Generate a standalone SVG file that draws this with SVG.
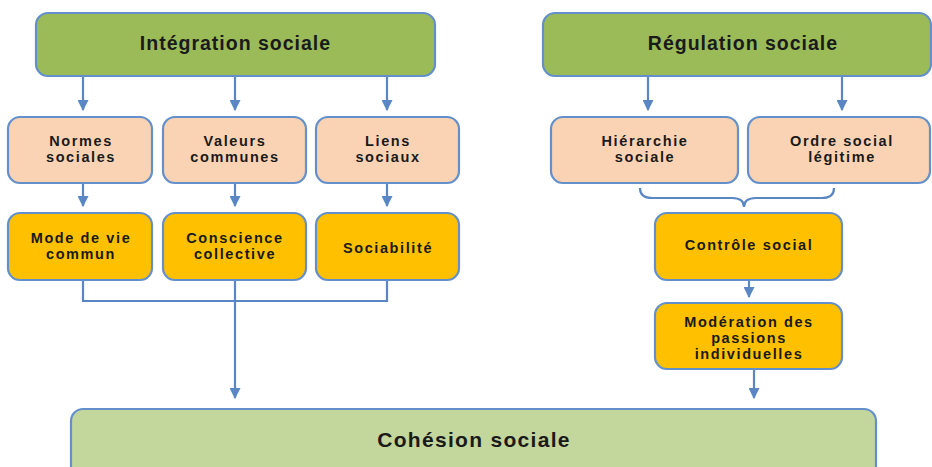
<svg xmlns="http://www.w3.org/2000/svg" width="932" height="467" viewBox="0 0 932 467">
<defs>
<marker id="ah" viewBox="0 0 10 10" refX="9" refY="5" markerWidth="5" markerHeight="5" markerUnits="strokeWidth" orient="auto">
<path d="M0,0 L10,5 L0,10 Z" fill="#5A86C4"/>
</marker>
</defs>
<style>
.box{stroke:#6390CB;stroke-width:2.2}
.g1{fill:#9BBB59}
.pe{fill:#FAD3B4}
.or{fill:#FFC000}
.g2{fill:#C3D69B}
text{font-family:"Liberation Sans",Arial,sans-serif;font-weight:bold;fill:#1A1A1A;text-anchor:middle}
.t1{font-size:19.5px;letter-spacing:1px}
.t2{font-size:14.5px;letter-spacing:1.6px}
.t3{font-size:21px;letter-spacing:1.3px}
.ln{fill:none;stroke:#5A86C4;stroke-width:2.2}
</style>
<g id="integration">
<rect class="box g1" x="36" y="13" width="399" height="63" rx="12"/>
<text class="t1" x="235.5" y="50">Intégration sociale</text>
</g>
<g id="regulation">
<rect class="box g1" x="543" y="13" width="388" height="63" rx="12"/>
<text class="t1" x="743" y="50">Régulation sociale</text>
</g>
<g id="normes">
<rect class="box pe" x="8" y="117" width="144" height="66" rx="12"/>
<text class="t2" x="81" y="146">Normes</text>
<text class="t2" x="81" y="162">sociales</text>
</g>
<g id="valeurs">
<rect class="box pe" x="163" y="117" width="143" height="66" rx="12"/>
<text class="t2" x="235" y="146">Valeurs</text>
<text class="t2" x="235" y="162">communes</text>
</g>
<g id="liens">
<rect class="box pe" x="316" y="117" width="143" height="66" rx="12"/>
<text class="t2" x="388" y="146">Liens</text>
<text class="t2" x="388" y="162">sociaux</text>
</g>
<g id="hierarchie">
<rect class="box pe" x="551" y="117" width="187" height="66" rx="12"/>
<text class="t2" x="645" y="146">Hiérarchie</text>
<text class="t2" x="645" y="162">sociale</text>
</g>
<g id="ordre">
<rect class="box pe" x="748" y="117" width="182" height="66" rx="12"/>
<text class="t2" x="842" y="146">Ordre social</text>
<text class="t2" x="842" y="162">légitime</text>
</g>
<g id="mode">
<rect class="box or" x="8" y="213" width="144" height="67" rx="12"/>
<text class="t2" x="81" y="243">Mode de vie</text>
<text class="t2" x="81" y="259">commun</text>
</g>
<g id="conscience">
<rect class="box or" x="163" y="213" width="143" height="67" rx="12"/>
<text class="t2" x="235" y="243">Conscience</text>
<text class="t2" x="235" y="259">collective</text>
</g>
<g id="sociabilite">
<rect class="box or" x="316" y="213" width="143" height="67" rx="12"/>
<text class="t2" x="388" y="253">Sociabilité</text>
</g>
<g id="controle">
<rect class="box or" x="655" y="213" width="187" height="67" rx="12"/>
<text class="t2" x="749" y="250">Contrôle social</text>
</g>
<g id="moderation">
<rect class="box or" x="655" y="303" width="187" height="66" rx="12"/>
<text class="t2" x="749" y="327">Modération des</text>
<text class="t2" x="749" y="343">passions</text>
<text class="t2" x="749" y="359">individuelles</text>
</g>
<g id="cohesion">
<rect class="box g2" x="71" y="409" width="805" height="80" rx="12"/>
<text class="t3" x="474" y="447">Cohésion sociale</text>
</g>
<g id="connectors">
<line class="ln" x1="83" y1="77" x2="83" y2="110" marker-end="url(#ah)"/>
<line class="ln" x1="235" y1="77" x2="235" y2="110" marker-end="url(#ah)"/>
<line class="ln" x1="387" y1="77" x2="387" y2="110" marker-end="url(#ah)"/>
<line class="ln" x1="648" y1="77" x2="648" y2="110" marker-end="url(#ah)"/>
<line class="ln" x1="842" y1="77" x2="842" y2="110" marker-end="url(#ah)"/>
<line class="ln" x1="83" y1="184" x2="83" y2="206" marker-end="url(#ah)"/>
<line class="ln" x1="235" y1="184" x2="235" y2="206" marker-end="url(#ah)"/>
<line class="ln" x1="387" y1="184" x2="387" y2="206" marker-end="url(#ah)"/>
<path class="ln" d="M83,281 V301 H387 V281"/>
<line class="ln" x1="235" y1="281" x2="235" y2="398" marker-end="url(#ah)"/>
<path class="ln" d="M640,188 Q640,198 652,198 H732 Q744,198 744,207 Q744,198 756,198 H822 Q834,198 834,188"/>
<line class="ln" x1="749" y1="281" x2="749" y2="297" marker-end="url(#ah)"/>
<line class="ln" x1="754" y1="370" x2="754" y2="398" marker-end="url(#ah)"/>
</g>
</svg>
